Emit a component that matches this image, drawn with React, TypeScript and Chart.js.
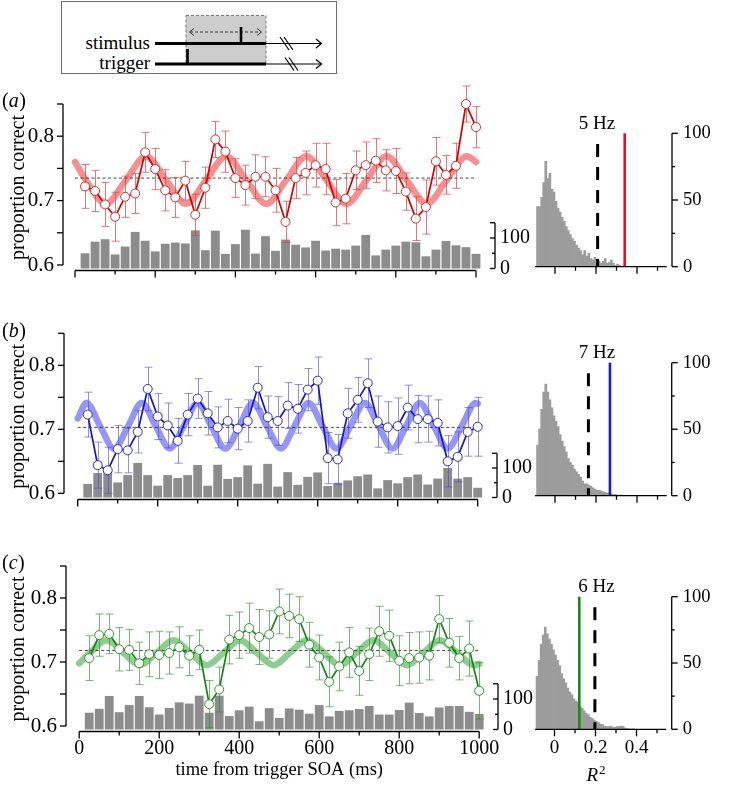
import React, { useEffect, useRef } from 'react';
import { Chart, registerables } from 'chart.js';
Chart.register(...registerables);

const FONT = '"Liberation Serif", "Times New Roman", serif';

// ---------- shared axis values ----------
const SOA = [25, 50, 75, 100, 125, 150, 175, 200, 225, 250, 275, 300, 325, 350, 375, 400, 425, 450, 475, 500,
  525, 550, 575, 600, 625, 650, 675, 700, 725, 750, 775, 800, 825, 850, 875, 900, 925, 950, 975, 1000];
const Y_TICKS = [0.6, 0.65, 0.7, 0.75, 0.8, 0.85];
const Y_LABELS = [0.6, 0.7, 0.8];
const X_TICKS = [0, 100, 200, 300, 400, 500, 600, 700, 800, 900, 1000];
const X_LABELS = [0, 200, 400, 600, 800, 1000];
const TRIAL_TICKS = [0, 50, 100, 150];
const TRIAL_LABELS = [0, 100];
const R2_BINS = [-0.085, -0.075, -0.065, -0.055, -0.045, -0.035, -0.025, -0.015, -0.005, 0.005,
  0.015, 0.025, 0.035, 0.045, 0.055, 0.065, 0.075, 0.085, 0.095, 0.105,
  0.115, 0.125, 0.135, 0.145, 0.155, 0.165, 0.175, 0.185, 0.195, 0.205,
  0.215, 0.225, 0.235, 0.245, 0.255, 0.265, 0.275, 0.285, 0.295, 0.305,
  0.315, 0.325, 0.335, 0.345, 0.355, 0.365, 0.375, 0.385, 0.395, 0.405,
  0.415, 0.425, 0.435, 0.445, 0.455, 0.465, 0.475, 0.485, 0.495];
const HIST_X_TICKS = [0, 0.1, 0.2, 0.3, 0.4, 0.5];
const HIST_X_LABELS = [0, 0.2, 0.4];
const HIST_Y_TICKS = [0, 25, 50, 75, 100];
const HIST_Y_LABELS = [0, 50, 100];

// ---------- panel (a) 5 Hz ----------
const accA = [0.722, 0.715, 0.694, 0.675, 0.706, 0.711, 0.775, 0.749, 0.716, 0.705, 0.731, 0.678, 0.720, 0.795, 0.776, 0.735, 0.724, 0.737, 0.737, 0.716,
  0.667, 0.735, 0.743, 0.755, 0.749, 0.697, 0.703, 0.747, 0.755, 0.762, 0.747, 0.746, 0.714, 0.672, 0.690, 0.761, 0.740, 0.754, 0.850, 0.814];
const errA = [0.034, 0.032, 0.034, 0.038, 0.032, 0.031, 0.031, 0.032, 0.032, 0.031, 0.030, 0.032, 0.032, 0.028, 0.032, 0.030, 0.031, 0.034, 0.031, 0.034,
  0.032, 0.032, 0.034, 0.034, 0.040, 0.036, 0.039, 0.030, 0.036, 0.034, 0.032, 0.035, 0.029, 0.034, 0.042, 0.037, 0.030, 0.035, 0.028, 0.032];
const trialsA = [50, 88, 96, 46, 72, 120, 91, 56, 81, 85, 82, 125, 60, 124, 48, 80, 127, 49, 106, 58,
  95, 78, 69, 91, 59, 65, 62, 75, 110, 43, 62, 75, 88, 86, 40, 62, 90, 76, 70, 48];
const fitTA = [0, 27, 77, 127, 177, 227, 277, 327, 377, 427, 477, 527, 577, 627, 677, 727, 777, 827, 877, 927, 977, 1000];
const fitVA = [0.760, 0.732, 0.695, 0.732, 0.769, 0.732, 0.695, 0.732, 0.769, 0.732, 0.695, 0.732, 0.769, 0.732, 0.695, 0.732, 0.769, 0.732, 0.695, 0.732, 0.769, 0.760];
const meanA = 0.735;
const histA = [45, 45, 52, 63, 79, 66, 70, 58, 56, 49, 44, 41, 37, 34, 30, 27, 24, 21, 19, 16,
  14, 12, 9, 12, 8, 10, 6, 5, 7, 4, 4, 2.5, 4, 6, 2.5, 3, 5, 2.5, 1, 2,
  1, 0.5, 0.5, 0.3, 0.3, 0, 0.3, 0.3, 0, 0.3, 0, 0, 0.3, 0, 0, 0, 0, 0, 0];
const obsA = 0.34;
const thrA = 0.208;

// ---------- panel (b) 7 Hz ----------
const accB = [0.723, 0.644, 0.636, 0.669, 0.667, 0.696, 0.763, 0.720, 0.706, 0.682, 0.723, 0.748, 0.725, 0.703, 0.713, 0.701, 0.713, 0.765, 0.719, 0.713,
  0.737, 0.732, 0.762, 0.776, 0.655, 0.653, 0.725, 0.746, 0.772, 0.712, 0.703, 0.705, 0.734, 0.716, 0.716, 0.710, 0.650, 0.657, 0.696, 0.704];
const errB = [0.035, 0.036, 0.036, 0.037, 0.035, 0.033, 0.034, 0.036, 0.035, 0.035, 0.033, 0.031, 0.034, 0.032, 0.034, 0.033, 0.033, 0.033, 0.033, 0.038,
  0.036, 0.038, 0.033, 0.037, 0.040, 0.039, 0.039, 0.035, 0.038, 0.040, 0.040, 0.044, 0.035, 0.037, 0.036, 0.036, 0.040, 0.039, 0.038, 0.046];
const trialsB = [46, 83, 92, 51, 76, 117, 76, 40, 76, 66, 76, 110, 40, 111, 63, 69, 109, 47, 114, 37,
  86, 43, 70, 85, 39, 50, 58, 72, 78, 31, 59, 48, 69, 78, 44, 64, 100, 64, 69, 33];
const fitTB = [0, 22, 56, 91, 126, 160, 195, 230, 265, 300, 334, 369, 404, 438, 473, 508, 542, 577, 612, 647, 682, 718, 752, 787, 821, 855, 890, 925, 960, 995, 1000];
const fitVB = [0.717, 0.741, 0.705, 0.670, 0.705, 0.741, 0.705, 0.670, 0.705, 0.741, 0.705, 0.670, 0.705, 0.741, 0.705, 0.670, 0.705, 0.741, 0.705, 0.670,
  0.705, 0.741, 0.705, 0.670, 0.705, 0.741, 0.705, 0.670, 0.705, 0.741, 0.740];
const meanB = 0.703;
const histB = [38, 50, 65, 78, 84, 78, 72, 66, 60, 56, 52, 46, 41, 37, 33, 28, 25, 23, 20, 18,
  16, 14, 11, 9, 9, 8, 7, 6, 5, 4, 4, 3.5, 3, 2.5, 2, 2, 1.5, 1, 1, 0.5,
  0.5, 0.5, 0.3, 0.3, 0, 0.3, 0, 0.3, 0, 0, 0, 0, 0, 0, 0, 0, 0, 0, 0];
const obsB = 0.268;
const thrB = 0.163;

// ---------- panel (c) 6 Hz ----------
const accC = [0.706, 0.742, 0.744, 0.720, 0.719, 0.698, 0.712, 0.711, 0.714, 0.723, 0.710, 0.719, 0.634, 0.657, 0.735, 0.742, 0.753, 0.739, 0.743, 0.779,
  0.772, 0.767, 0.727, 0.707, 0.669, 0.693, 0.715, 0.686, 0.712, 0.748, 0.741, 0.702, 0.706, 0.707, 0.710, 0.767, 0.730, 0.706, 0.721, 0.655];
const errC = [0.035, 0.033, 0.031, 0.034, 0.032, 0.033, 0.035, 0.037, 0.033, 0.032, 0.031, 0.031, 0.037, 0.035, 0.038, 0.036, 0.039, 0.043, 0.037, 0.035,
  0.034, 0.035, 0.035, 0.035, 0.039, 0.038, 0.039, 0.038, 0.041, 0.039, 0.040, 0.039, 0.040, 0.040, 0.038, 0.037, 0.038, 0.034, 0.043, 0.044];
const trialsC = [55, 68, 110, 57, 80, 110, 73, 49, 71, 89, 85, 111, 55, 111, 44, 63, 75, 27, 70, 38,
  69, 65, 52, 80, 43, 61, 63, 67, 77, 49, 49, 64, 88, 54, 43, 72, 77, 77, 58, 51];
const fitTC = [0, 27, 69, 110, 152, 194, 236, 277, 319, 361, 402, 444, 486, 527, 569, 611, 652, 694, 736, 777, 819, 861, 902, 944, 986, 1000];
const fitVC = [0.698, 0.7145, 0.734, 0.7145, 0.695, 0.7145, 0.734, 0.7145, 0.695, 0.7145, 0.734, 0.7145, 0.695, 0.7145, 0.734, 0.7145, 0.695, 0.7145,
  0.734, 0.7145, 0.695, 0.7145, 0.734, 0.7145, 0.695, 0.697];
const meanC = 0.718;
const histC = [40, 52, 64, 71, 77, 72, 68, 64, 60, 56, 52, 48, 42, 38, 35, 31, 28, 26, 23, 21,
  20, 17, 16, 14, 12, 11, 9, 8, 7, 6, 5, 4, 3.5, 2.5, 2, 2, 2.5, 1.5, 1.5, 2,
  2, 2.5, 2, 1, 0.5, 0.3, 0, 0.3, 0, 0, 0, 0, 0, 0, 0, 0, 0, 0, 0];
const obsC = 0.121;
const thrC = 0.197;

// ---------- layouts (page pixels) ----------
const LAYOUT_A = { top: 80, height: 220, axisX: 63, x0: 75, x1000: 476, y085: 104, y06: 265, barZero: 268.5, bar100: 238, barAxisX: 495, xAxisGap: 2 };
const LAYOUT_B = { top: 310, height: 220, axisX: 64, x0: 77.7, x1000: 477.7, y085: 333.3, y06: 493.3, barZero: 497.5, bar100: 468, barAxisX: 497, xAxisGap: 2 };
const LAYOUT_C = { top: 540, height: 249, axisX: 66, x0: 79.2, x1000: 479.2, y085: 566, y06: 726, barZero: 729.5, bar100: 699, barAxisX: 498, xAxisGap: 2 };
const HL_A = { top: 80, height: 220, left: 535, zero: 555, k: 205, yAxisX: 672, y0: 266.7, y100: 133.3 };
const HL_B = { top: 310, height: 220, left: 535, zero: 555, k: 205, yAxisX: 671.7, y0: 495.7, y100: 362.7 };
const HL_C = { top: 540, height: 249, left: 535, zero: 554.5, k: 205, yAxisX: 671.7, y0: 729.3, y100: 596.7 };

const COL_A = { line: '#d40000', marker: '#e02828', err: 'rgba(228,60,60,0.7)', fit: 'rgba(242,100,100,0.72)', obs: '#e8101a' };
const COL_B = { line: '#1414c8', marker: '#2a2ae0', err: 'rgba(70,70,230,0.6)', fit: 'rgba(110,110,245,0.72)', obs: '#1a1ad8' };
const COL_C = { line: '#158515', marker: '#2a9a2a', err: 'rgba(40,150,40,0.65)', fit: 'rgba(100,185,100,0.72)', obs: '#168a16' };

function seg(ctx: any, x1: number, y1: number, x2: number, y2: number) {
  ctx.beginPath(); ctx.moveTo(x1, y1); ctx.lineTo(x2, y2); ctx.stroke();
}

function LeftPanel(props: any) {
  const { L, acc, err, trials, fitT, fitV, mean, col, letter, showX } = props;
  const ref = useRef<HTMLCanvasElement>(null);
  useEffect(() => {
    const W = 540;
    const kx = (L.x1000 - L.x0) / 1000;
    const xmin = -(L.x0 - L.axisX) / kx;
    const xmax = 1000 + (L.barAxisX - L.x1000) / kx;
    const ky = (L.y06 - L.y085) / 0.25;
    const ymin = 0.6 - (L.barZero - L.y06) / ky;
    const kb = (L.barZero - L.bar100) / 100;
    const y2max = (L.barZero - L.y085) / kb;

    const plugin = {
      id: 'leftDecor',
      beforeDatasetDraw(chart: any, args: any) {
        if (args.index !== 0) return;
        const ctx = chart.ctx; const xs = chart.scales.x; const ys = chart.scales.y;
        ctx.save(); ctx.strokeStyle = col.err; ctx.lineWidth = 1;
        SOA.forEach((t, i) => {
          const px = Math.round(xs.getPixelForValue(t)) + 0.5;
          const hi = ys.getPixelForValue(acc[i] + err[i]);
          const lo = ys.getPixelForValue(acc[i] - err[i]);
          ctx.beginPath();
          ctx.moveTo(px, hi); ctx.lineTo(px, lo);
          ctx.moveTo(px - 4, hi); ctx.lineTo(px + 4, hi);
          ctx.moveTo(px - 4, lo); ctx.lineTo(px + 4, lo);
          ctx.stroke();
        });
        ctx.restore();
      },
      afterDraw(chart: any) {
        const ctx = chart.ctx; const xs = chart.scales.x; const ys = chart.scales.y; const yb = chart.scales.y2;
        const area = chart.chartArea;
        ctx.save();
        ctx.strokeStyle = '#000'; ctx.fillStyle = '#000'; ctx.lineWidth = 1.3;
        // left y axis
        const ax = area.left;
        seg(ctx, ax, ys.getPixelForValue(0.85), ax, ys.getPixelForValue(0.6));
        Y_TICKS.forEach((v) => { const p = ys.getPixelForValue(v); seg(ctx, ax - 6, p, ax, p); });
        ctx.font = `21px ${FONT}`; ctx.textAlign = 'right'; ctx.textBaseline = 'middle';
        Y_LABELS.forEach((v) => ctx.fillText(v.toFixed(1), ax - 9, ys.getPixelForValue(v)));
        // bottom x axis
        const xa = area.bottom + L.xAxisGap;
        seg(ctx, xs.getPixelForValue(0), xa, xs.getPixelForValue(1000), xa);
        X_TICKS.forEach((v) => { const p = xs.getPixelForValue(v); seg(ctx, p, xa, p, xa + (v % 200 === 0 ? 7 : 4)); });
        if (showX) {
          ctx.font = `20px ${FONT}`;
          ctx.textAlign = 'center'; ctx.textBaseline = 'middle';
          X_LABELS.forEach((v) => ctx.fillText(String(v), xs.getPixelForValue(v), xa + 17));
          ctx.font = `18.5px ${FONT}`;
          ctx.fillText('time from trigger SOA (ms)', xs.getPixelForValue(500), xa + 39);
        }
        // trials axis (right bracket)
        const bx = area.right;
        seg(ctx, bx, yb.getPixelForValue(0), bx, yb.getPixelForValue(150));
        TRIAL_TICKS.forEach((v) => { const p = yb.getPixelForValue(v); seg(ctx, bx - (v === 50 ? 3 : 5), p, bx, p); });
        ctx.font = `20px ${FONT}`; ctx.textAlign = 'left'; ctx.textBaseline = 'middle';
        TRIAL_LABELS.forEach((v) => ctx.fillText(String(v), bx + 5, yb.getPixelForValue(v)));
        // y title
        ctx.save();
        ctx.translate(19, (ys.getPixelForValue(0.6) + ys.getPixelForValue(0.85)) / 2 + 3);
        ctx.rotate(-Math.PI / 2);
        ctx.font = `20px ${FONT}`; ctx.textAlign = 'center'; ctx.textBaseline = 'middle';
        ctx.fillText('proportion correct', 0, 0);
        ctx.restore();
        // panel letter
        const ly = ys.getPixelForValue(0.85) - 2;
        ctx.textAlign = 'left'; ctx.textBaseline = 'middle';
        ctx.font = `20px ${FONT}`;
        let lx = 2;
        ctx.fillText('(', lx, ly); lx += ctx.measureText('(').width;
        ctx.font = `italic 20px ${FONT}`;
        ctx.fillText(letter, lx, ly); lx += ctx.measureText(letter).width + 0.5;
        ctx.font = `20px ${FONT}`;
        ctx.fillText(')', lx, ly);
        ctx.restore();
      },
    };

    const chart = new Chart(ref.current as HTMLCanvasElement, {
      type: 'bar',
      data: {
        datasets: [
          {
            type: 'line', label: 'proportion correct', data: SOA.map((t, i) => ({ x: t, y: acc[i] })),
            borderColor: col.line, borderWidth: 1.7, pointRadius: 4.5, pointBorderWidth: 1,
            pointBackgroundColor: '#ffffff', pointBorderColor: col.marker, yAxisID: 'y', order: 0, clip: false,
          } as any,
          {
            type: 'line', label: 'mean', data: [{ x: 0, y: mean }, { x: 1000, y: mean }],
            borderColor: 'rgba(40,40,40,0.85)', borderWidth: 1, borderDash: [3, 2.5], pointRadius: 0, yAxisID: 'y', order: 1, clip: false,
          } as any,
          {
            type: 'line', label: 'fit', data: fitT.map((t: number, i: number) => ({ x: t, y: fitV[i] })),
            borderColor: col.fit, borderWidth: 6.5, pointRadius: 0, cubicInterpolationMode: 'monotone',
            borderCapStyle: 'round', yAxisID: 'y', order: 2, clip: false,
          } as any,
          {
            type: 'bar', label: 'n trials', data: SOA.map((t, i) => ({ x: t, y: trials[i] })),
            backgroundColor: '#8c8c8c', borderWidth: 0, barPercentage: 0.88, categoryPercentage: 1,
            yAxisID: 'y2', order: 3, clip: false,
          } as any,
        ],
      },
      options: {
        animation: false, responsive: false, events: [],
        layout: { padding: { left: L.axisX, right: W - L.barAxisX, top: L.y085 - L.top, bottom: L.height - (L.barZero - L.top) } },
        plugins: { legend: { display: false }, tooltip: { enabled: false }, title: { display: false } },
        scales: {
          x: { type: 'linear', min: xmin, max: xmax, display: false, offset: false },
          y: { type: 'linear', min: ymin, max: 0.85, display: false, beginAtZero: false },
          y2: { type: 'linear', position: 'right', min: 0, max: y2max, display: false, beginAtZero: false },
        },
      } as any,
      plugins: [plugin],
    });
    return () => chart.destroy();
  }, []);
  return <canvas ref={ref} width={540} height={L.height} style={{ position: 'absolute', left: 0, top: L.top }} />;
}

function HistPanel(props: any) {
  const { H, counts, obs, thr, col, freq, showX } = props;
  const ref = useRef<HTMLCanvasElement>(null);
  useEffect(() => {
    const CL = 520; const W = 221;
    const xmin = (H.left - H.zero) / H.k;
    const xmax = (H.yAxisX - H.zero) / H.k;
    const plugin = {
      id: 'histDecor',
      afterDraw(chart: any) {
        const ctx = chart.ctx; const xs = chart.scales.x; const ys = chart.scales.y; const area = chart.chartArea;
        ctx.save();
        ctx.strokeStyle = '#000'; ctx.fillStyle = '#000'; ctx.lineWidth = 1.3;
        const y0 = ys.getPixelForValue(0);
        seg(ctx, area.left, y0, xs.getPixelForValue(0.545), y0);
        HIST_X_TICKS.forEach((v, i) => { const p = xs.getPixelForValue(v); seg(ctx, p, y0, p, y0 + (i % 2 === 0 ? 7 : 4)); });
        const ax = area.right;
        seg(ctx, ax, y0, ax, ys.getPixelForValue(100));
        HIST_Y_TICKS.forEach((v) => { const p = ys.getPixelForValue(v); seg(ctx, ax, p, ax + (v % 50 === 0 ? 6 : 3), p); });
        ctx.font = `18.5px ${FONT}`; ctx.textAlign = 'left'; ctx.textBaseline = 'middle';
        HIST_Y_LABELS.forEach((v) => ctx.fillText(String(v), ax + 11, ys.getPixelForValue(v)));
        // n trials
        ctx.save();
        ctx.translate(731, (y0 + ys.getPixelForValue(100)) / 2);
        ctx.rotate(-Math.PI / 2);
        ctx.textBaseline = 'middle'; ctx.textAlign = 'left';
        ctx.font = `italic 19px ${FONT}`;
        const wn = ctx.measureText('n').width;
        ctx.font = `19px ${FONT}`;
        const wt = ctx.measureText(' trials').width;
        const sx = -(wn + wt) / 2;
        ctx.font = `italic 19px ${FONT}`; ctx.fillText('n', sx, 0);
        ctx.font = `19px ${FONT}`; ctx.fillText(' trials', sx + wn, 0);
        ctx.restore();
        // frequency label
        ctx.font = `19px ${FONT}`; ctx.textAlign = 'center'; ctx.textBaseline = 'middle';
        ctx.fillText(freq, xs.getPixelForValue(0.205), ys.getPixelForValue(107));
        if (showX) {
          ctx.font = `19px ${FONT}`; ctx.textAlign = 'center'; ctx.textBaseline = 'middle';
          HIST_X_LABELS.forEach((v) => ctx.fillText(v === 0 ? '0' : v.toFixed(1), xs.getPixelForValue(v), y0 + 19));
          ctx.font = `italic 19px ${FONT}`;
          const wr = ctx.measureText('R').width;
          ctx.font = `13px ${FONT}`;
          const w2 = ctx.measureText('2').width;
          const cx = xs.getPixelForValue(0.2) - (wr + w2) / 2;
          const cy = y0 + 47;
          ctx.textAlign = 'left';
          ctx.font = `italic 19px ${FONT}`; ctx.fillText('R', cx, cy);
          ctx.font = `13px ${FONT}`; ctx.fillText('2', cx + wr + 1, cy - 6);
        }
        ctx.restore();
      },
    };
    const chart = new Chart(ref.current as HTMLCanvasElement, {
      type: 'bar',
      data: {
        datasets: [
          {
            type: 'line', label: 'observed', data: [{ x: obs, y: 0 }, { x: obs, y: 100 }],
            borderColor: col.obs, borderWidth: 2.6, pointRadius: 0, order: 0, clip: false,
          } as any,
          {
            type: 'line', label: 'threshold', data: [{ x: thr, y: 92 }, { x: thr, y: 0 }],
            borderColor: '#000', borderWidth: 3, borderDash: [13, 10], pointRadius: 0, order: 1, clip: false,
          } as any,
          {
            type: 'bar', label: 'null', data: R2_BINS.map((b, i) => ({ x: b, y: counts[i] })),
            backgroundColor: '#9c9c9c', borderWidth: 0, barPercentage: 1, categoryPercentage: 1, order: 2,
          } as any,
        ],
      },
      options: {
        animation: false, responsive: false, events: [],
        layout: { padding: { left: H.left - CL, right: W - (H.yAxisX - CL), top: H.y100 - H.top, bottom: H.height - (H.y0 - H.top) } },
        plugins: { legend: { display: false }, tooltip: { enabled: false }, title: { display: false } },
        scales: {
          x: { type: 'linear', min: xmin, max: xmax, display: false, offset: false },
          y: { type: 'linear', min: 0, max: 100, display: false },
        },
      } as any,
      plugins: [plugin],
    });
    return () => chart.destroy();
  }, []);
  return <canvas ref={ref} width={221} height={H.height} style={{ position: 'absolute', left: 520, top: H.top }} />;
}

function Schematic() {
  const f = { fontFamily: FONT, fontSize: 19, fill: '#000' } as any;
  return (
    <svg width={345} height={80} style={{ position: 'absolute', left: 0, top: 0 }}>
      <rect x={61.5} y={1.5} width={275} height={72} fill="#fff" stroke="#6e6e6e" strokeWidth={1} />
      <rect x={186} y={15.5} width={80} height={48.5} fill="#cdcdcd" stroke="#7a7a7a" strokeWidth={1} strokeDasharray="3,2" />
      {/* dashed double arrow */}
      <line x1={190} y1={32} x2={261} y2={32} stroke="#333" strokeWidth={1} strokeDasharray="3,2" />
      <polyline points="194,28.5 189.5,32 194,35.5" fill="none" stroke="#333" strokeWidth={1} />
      <polyline points="257,28.5 261.5,32 257,35.5" fill="none" stroke="#333" strokeWidth={1} />
      {/* stimulus */}
      <text x={150} y={49} textAnchor="end" style={f}>stimulus</text>
      <line x1={155} y1={43.5} x2={266} y2={43.5} stroke="#000" strokeWidth={2.8} />
      <line x1={266} y1={43.5} x2={321} y2={43.5} stroke="#000" strokeWidth={1.2} />
      <polyline points="316,39 321.5,43.5 316,48" fill="none" stroke="#000" strokeWidth={1.2} />
      <line x1={241} y1={27} x2={241} y2={43.5} stroke="#000" strokeWidth={2.6} />
      <line x1={280} y1={37} x2={289} y2={50} stroke="#000" strokeWidth={1.2} />
      <line x1={284} y1={37} x2={293} y2={50} stroke="#000" strokeWidth={1.2} />
      {/* trigger */}
      <text x={150} y={69} textAnchor="end" style={f}>trigger</text>
      <line x1={155} y1={64} x2={266} y2={64} stroke="#000" strokeWidth={2.8} />
      <line x1={266} y1={64} x2={321} y2={64} stroke="#000" strokeWidth={1.2} />
      <polyline points="316,59.5 321.5,64 316,68.5" fill="none" stroke="#000" strokeWidth={1.2} />
      <line x1={187.5} y1={49} x2={187.5} y2={64} stroke="#000" strokeWidth={2.6} />
      <line x1={285} y1={57.5} x2={294} y2={70.5} stroke="#000" strokeWidth={1.2} />
      <line x1={289} y1={57.5} x2={298} y2={70.5} stroke="#000" strokeWidth={1.2} />
    </svg>
  );
}

export default function App() {
  return (
    <div style={{ position: 'absolute', left: 0, top: 0, width: 741, height: 789, background: '#fff', overflow: 'hidden' }}>
      <Schematic />
      <LeftPanel L={LAYOUT_A} acc={accA} err={errA} trials={trialsA} fitT={fitTA} fitV={fitVA} mean={meanA} col={COL_A} letter="a" showX={false} />
      <LeftPanel L={LAYOUT_B} acc={accB} err={errB} trials={trialsB} fitT={fitTB} fitV={fitVB} mean={meanB} col={COL_B} letter="b" showX={false} />
      <LeftPanel L={LAYOUT_C} acc={accC} err={errC} trials={trialsC} fitT={fitTC} fitV={fitVC} mean={meanC} col={COL_C} letter="c" showX={true} />
      <HistPanel H={HL_A} counts={histA} obs={obsA} thr={thrA} col={COL_A} freq="5 Hz" showX={false} />
      <HistPanel H={HL_B} counts={histB} obs={obsB} thr={thrB} col={COL_B} freq="7 Hz" showX={false} />
      <HistPanel H={HL_C} counts={histC} obs={obsC} thr={thrC} col={COL_C} freq="6 Hz" showX={true} />
    </div>
  );
}
